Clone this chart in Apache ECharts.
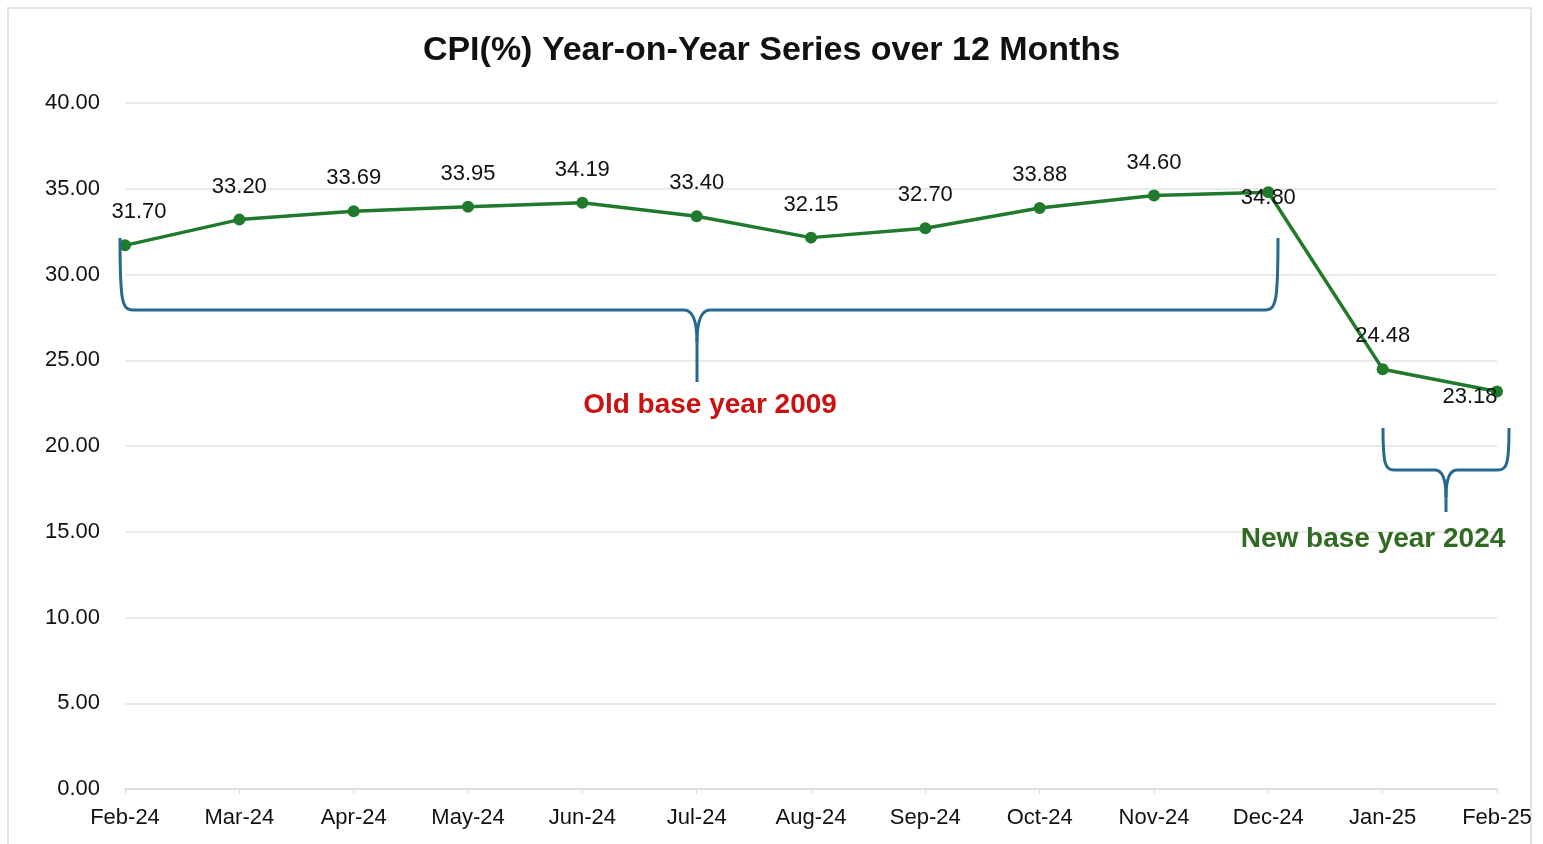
<!DOCTYPE html>
<html>
<head>
<meta charset="utf-8">
<script src="https://cdn.jsdelivr.net/npm/echarts@6/dist/echarts.min.js"></script>
<style>
  html, body { margin: 0; padding: 0; background: #fff; }
  #chart { width: 1543px; height: 844px; }
</style>
</head>
<body>
<div id="chart"></div>
<script>
const months = ['Feb-24', 'Mar-24', 'Apr-24', 'May-24', 'Jun-24', 'Jul-24', 'Aug-24',
  'Sep-24', 'Oct-24', 'Nov-24', 'Dec-24', 'Jan-25', 'Feb-25'];
const cpiValues = [31.70, 33.20, 33.69, 33.95, 34.19, 33.40, 32.15, 32.70, 33.88, 34.60, 34.80, 24.48, 23.18];
const yTicks = [0, 5, 10, 15, 20, 25, 30, 35, 40];

const chart = echarts.init(document.getElementById('chart'));

const FONT = 'Liberation Sans, Arial, sans-serif';
const lineColor = '#1f7a2c';
const braceColor = '#25698f';

// a few labels sit off the default "above" spot in the reference
const labelTweaks = {
  'Feb-24': { offset: [14, 0] },
  'Dec-24': { position: 'inside', offset: [0, 6] },
  'Feb-25': { position: 'inside', offset: [-27, 5] }
};

const seriesData = cpiValues.map((v, i) => {
  const tweak = labelTweaks[months[i]];
  return tweak ? { value: v, label: tweak } : v;
});

// curly brace made of lines and cubic curves (annotation only)
function brace(x1, x2, xm, yTop, yBar, yTip, r) {
  const st = { fill: 'none', stroke: braceColor, lineWidth: 3 };
  const ym = yBar + r * 2.5;
  const curve = (a, b, c1, c2) => ({
    type: 'bezierCurve', z: 10, silent: true, style: st,
    shape: { x1: a[0], y1: a[1], x2: b[0], y2: b[1], cpx1: c1[0], cpy1: c1[1], cpx2: c2[0], cpy2: c2[1] }
  });
  const line = (a, b) => ({
    type: 'line', z: 10, silent: true, style: st,
    shape: { x1: a[0], y1: a[1], x2: b[0], y2: b[1] }
  });
  return [
    curve([x1, yTop], [x1 + r, yBar], [x1, yBar - r * 0.6], [x1 + 2, yBar]),
    line([x1 + r, yBar], [xm - r, yBar]),
    curve([xm - r, yBar], [xm, ym], [xm - 3, yBar], [xm, yBar + r]),
    line([xm, ym], [xm, yTip]),
    curve([xm, ym], [xm + r, yBar], [xm, yBar + r], [xm + 3, yBar]),
    line([xm + r, yBar], [x2 - r, yBar]),
    curve([x2 - r, yBar], [x2, yTop], [x2 - 2, yBar], [x2, yBar - r * 0.6])
  ];
}

const option = {
  backgroundColor: '#fff',
  animation: false,
  title: {
    text: 'CPI(%) Year-on-Year Series over 12 Months',
    left: 'center',
    top: 29,
    textStyle: { fontFamily: FONT, fontSize: 34, fontWeight: 'bold', color: '#111' }
  },
  grid: { left: 125, right: 46, top: 103, bottom: 55 },
  xAxis: {
    type: 'category',
    data: months,
    boundaryGap: false,
    axisLine: { lineStyle: { color: '#d9d9d9', width: 1.5 } },
    axisTick: { show: true, length: 5, lineStyle: { color: '#d9d9d9' } },
    axisLabel: { fontFamily: FONT, fontSize: 22, color: '#111', margin: 18 },
    splitLine: { show: false }
  },
  yAxis: {
    type: 'value',
    min: yTicks[0],
    max: yTicks[yTicks.length - 1],
    interval: 5,
    axisLine: { show: false },
    axisTick: { show: false },
    axisLabel: {
      fontFamily: FONT, fontSize: 22, color: '#111', margin: 25,
      formatter: (v) => v.toFixed(2)
    },
    splitLine: { lineStyle: { color: '#e3e3e3', width: 1.5 } }
  },
  series: [
    {
      name: 'CPI',
      type: 'line',
      data: seriesData,
      symbol: 'circle',
      symbolSize: 12,
      lineStyle: { color: lineColor, width: 3.5 },
      itemStyle: { color: lineColor },
      label: {
        show: true,
        position: 'top',
        distance: 16,
        fontFamily: FONT,
        fontSize: 22,
        color: '#111',
        formatter: (p) => p.value.toFixed(2)
      },
      z: 3
    }
  ],
  graphic: [
    {
      type: 'rect',
      shape: { x: 8, y: 8, width: 1523, height: 840 },
      style: { fill: 'none', stroke: '#e2e2e2', lineWidth: 2 },
      silent: true
    },
    ...brace(120, 1278, 697, 238, 310, 382, 13),
    ...brace(1383, 1509, 1446, 428, 470, 512, 11),
    {
      type: 'text',
      x: 710,
      y: 405,
      style: {
        text: 'Old base year 2009',
        font: 'bold 28px ' + FONT,
        fill: '#cc1111',
        align: 'center',
        verticalAlign: 'middle'
      },
      z: 10
    },
    {
      type: 'text',
      x: 1373,
      y: 539,
      style: {
        text: 'New base year 2024',
        font: 'bold 28px ' + FONT,
        fill: '#2f6b21',
        align: 'center',
        verticalAlign: 'middle'
      },
      z: 10
    }
  ]
};

chart.setOption(option);
</script>
</body>
</html>
